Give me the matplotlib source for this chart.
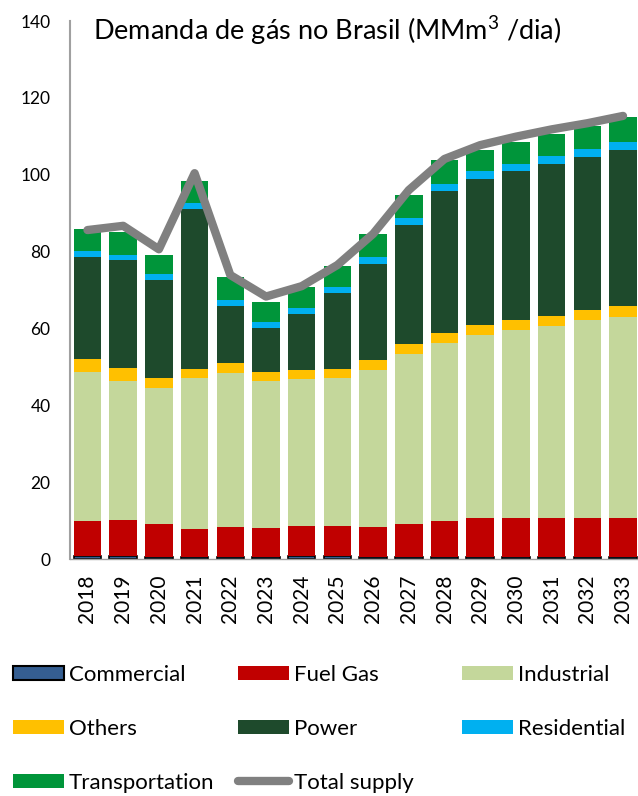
import matplotlib
matplotlib.use("Agg")
import matplotlib.pyplot as plt
from matplotlib.patches import Patch
from matplotlib.lines import Line2D
import numpy as np

plt.rcParams['font.family'] = ['Lato', 'DejaVu Sans']
plt.rcParams['mathtext.fontset'] = 'custom'
plt.rcParams['mathtext.rm'] = 'Lato'
plt.rcParams['mathtext.it'] = 'Lato'

years = ["2018", "2019", "2020", "2021", "2022", "2023", "2024", "2025",
         "2026", "2027", "2028", "2029", "2030", "2031", "2032", "2033"]

commercial = [0.7, 0.7, 0.6, 0.6, 0.6, 0.6, 0.7, 0.7, 0.5, 0.5, 0.5, 0.5, 0.5, 0.5, 0.5, 0.5]
fuel_gas = [9.2, 9.4, 8.6, 7.3, 7.8, 7.5, 8.0, 7.9, 7.8, 8.7, 9.5, 10.2, 10.2, 10.2, 10.2, 10.2]
industrial = [38.8, 36.2, 35.2, 39.2, 40.1, 38.1, 38.1, 38.5, 40.9, 44.1, 46.1, 47.5, 48.9, 49.9, 51.5, 52.3]
others = [3.3, 3.3, 2.8, 2.3, 2.6, 2.5, 2.3, 2.3, 2.7, 2.7, 2.7, 2.7, 2.7, 2.7, 2.6, 2.9]
power = [26.7, 28.2, 25.5, 41.7, 14.8, 11.5, 14.7, 19.8, 24.9, 31.0, 37.0, 38.1, 38.7, 39.6, 39.8, 40.5]
residential = [1.4, 1.3, 1.5, 1.5, 1.5, 1.5, 1.6, 1.6, 1.8, 1.7, 1.7, 1.9, 1.8, 1.9, 2.0, 2.0]
transportation = [5.8, 6.1, 4.9, 5.8, 5.9, 5.3, 5.4, 5.4, 5.9, 6.1, 6.2, 5.5, 5.8, 5.7, 6.2, 6.7]
total_supply = [85.6, 86.7, 80.6, 100.4, 73.9, 68.3, 71.0, 76.5, 84.6, 96.0, 104.1, 107.7, 109.9, 111.8, 113.4, 115.3]

series = [
    ("Commercial", commercial, "#355E91"),
    ("Fuel Gas", fuel_gas, "#C00000"),
    ("Industrial", industrial, "#C4D79B"),
    ("Others", others, "#FFC000"),
    ("Power", power, "#1E4A2C"),
    ("Residential", residential, "#00B0F0"),
    ("Transportation", transportation, "#00953A"),
]

fig = plt.figure(figsize=(6.38, 7.96), dpi=100)
ax = fig.add_axes([70/638, (796-559)/796, (638-70)/638, (559-21)/796])

x = np.arange(len(years))
bottom = np.zeros(len(years))
for name, vals, col in series:
    vals = np.array(vals)
    if name == "Commercial":
        ax.bar(x, vals, 0.77, bottom=bottom, color=col, edgecolor="black", linewidth=1.2, zorder=2)
    else:
        ax.bar(x, vals, 0.77, bottom=bottom, color=col, linewidth=0, zorder=2)
    bottom += vals

ax.plot(x, total_supply, color="#808080", linewidth=6, solid_capstyle="round",
        solid_joinstyle="round", zorder=3)

ax.set_xlim(-0.49, 15.42)
ax.set_ylim(0, 140)
ax.set_yticks(range(0, 141, 20))
ax.set_xticks(x)
ax.set_xticklabels(years, rotation=90, fontsize=15)
ax.tick_params(axis="y", length=0, pad=14, labelsize=12.5)
ax.tick_params(axis="x", length=0, pad=11)
for s in ["top", "right"]:
    ax.spines[s].set_visible(False)
ax.spines["left"].set_color("#A0A0A0")
ax.spines["left"].set_linewidth(1.5)
ax.spines["bottom"].set_color("#A0A0A0")
ax.spines["bottom"].set_linewidth(1.0)

fig.text(93/638, (796-31)/796, "Demanda de gás no Brasil (MMm$^3$ /dia)", fontsize=19.5,
         ha="left", va="center")

handles = {}
for name, vals, col in series:
    if name == "Commercial":
        handles[name] = Patch(facecolor=col, edgecolor="black", linewidth=1.5)
    else:
        handles[name] = Patch(facecolor=col, edgecolor="none")
handles["Total supply"] = Line2D([0], [0], color="#808080", linewidth=6, solid_capstyle="round")

columns = [
    (13, ["Commercial", "Others", "Transportation"]),
    (238, ["Fuel Gas", "Power", "Total supply"]),
    (462, ["Industrial", "Residential"]),
]
fs = 16
for xpx, names in columns:
    fig.legend([handles[n] for n in names], names, loc="upper left",
               bbox_to_anchor=(xpx/638, (796-665)/796), frameon=False,
               fontsize=fs, borderpad=0, borderaxespad=0,
               handlelength=51/(fs*100/72), handleheight=0.58,
               handletextpad=5/(fs*100/72), labelspacing=1.52)

fig.savefig("out.png", dpi=100)
